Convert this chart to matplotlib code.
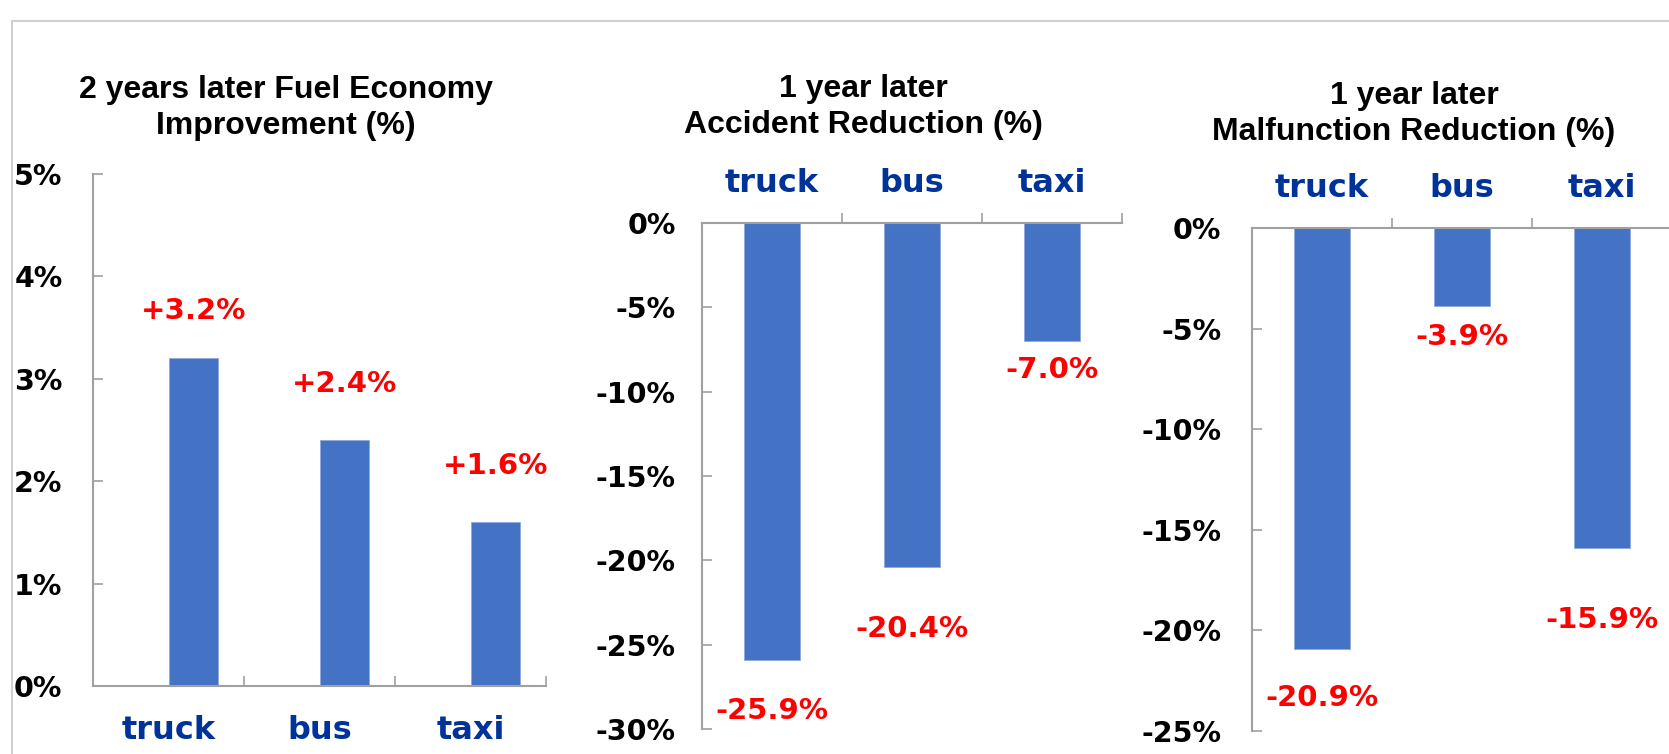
import matplotlib.pyplot as plt
import matplotlib.patches as patches
from matplotlib.ticker import FuncFormatter

## Data
categories = ["truck", "bus", "taxi"]
fuel_values = [3.2, 2.4, 1.6]
accident_values = [-25.9, -20.4, -7.0]
malfunction_values = [-20.9, -3.9, -15.9]

fuel_title = "2 years later Fuel Economy\nImprovement (%)"
accident_title = "1 year later\nAccident Reduction (%)"
malfunction_title = "1 year later\nMalfunction Reduction (%)"

## Styles
BAR = "#4472C4"
CAT = "#003399"
RED = "#FF0000"
AXC = "#A0A0A0"
TICKFONT = "DejaVu Sans"
TITLEFONT = "Liberation Sans"

W, H = 1669, 754
fig = plt.figure(figsize=(W / 100, H / 100), dpi=100)

## outer frame (only top and left edges are visible)
frame = patches.Rectangle((12 / W, -0.2), 1.5, (H - 21) / H + 0.2, transform=fig.transFigure,
                          fill=False, edgecolor="#D0D0D0", linewidth=1.5, clip_on=False)
fig.add_artist(frame)


def px(x0, y0, x1, y1):
    return [x0 / W, 1 - y1 / H, (x1 - x0) / W, (y1 - y0) / H]


def pct(v, pos):
    return "%d%%" % round(v)


def style_axis(ax, ylim, yticks, top, ypad, xpad):
    ax.set_ylim(*ylim)
    ax.set_xlim(-0.5, 2.5)
    ax.set_yticks(yticks)
    ax.yaxis.set_major_formatter(FuncFormatter(pct))
    for s in ax.spines.values():
        s.set_visible(False)
    ax.spines["left"].set_visible(True)
    ax.spines["left"].set_color(AXC)
    ax.spines["left"].set_linewidth(1.5)
    side = "top" if top else "bottom"
    ax.spines[side].set_visible(True)
    ax.spines[side].set_color(AXC)
    ax.spines[side].set_linewidth(1.5)
    if top:
        ax.xaxis.tick_top()
    ax.tick_params(axis="y", direction="in", length=7, width=1.2, color=AXC, pad=ypad,
                   labelsize=20.5)
    ax.set_xticks([0, 1, 2])
    ax.set_xticklabels(categories)
    ax.set_xticks([0.5, 1.5, 2.5], minor=True)
    ax.tick_params(axis="x", which="major", length=0, pad=xpad, labelsize=23,
                   labelcolor=CAT, top=top, bottom=not top, labeltop=top, labelbottom=not top)
    ax.tick_params(axis="x", which="minor", direction="in" if not top else "out", length=7,
                   width=1.2, color=AXC, top=top, bottom=not top)
    for lab in ax.get_yticklabels() + ax.get_xticklabels():
        lab.set_fontweight("bold")
        lab.set_fontfamily(TICKFONT)


def value_labels(ax, xs, vals, offs, sign):
    for x, v, o in zip(xs, vals, offs):
        txt = ("+%.1f%%" % v) if v > 0 else ("%.1f%%" % v)
        ax.annotate(txt, (x, v), xytext=(0, sign * o * 0.72), textcoords="offset points",
                    ha="center", va="center", color=RED, fontsize=21, fontweight="bold",
                    family=TICKFONT, annotation_clip=False)


## Panel 1 - fuel economy
ax1 = fig.add_axes(px(93, 174, 546, 686))
x = list(range(len(categories)))
ax1.bar(x, fuel_values, width=0.33, align="edge", color=BAR, edgecolor="#8FAADC", linewidth=0.6)
style_axis(ax1, (0, 5), [0, 1, 2, 3, 4, 5], False, 22, 21)
value_labels(ax1, [i + 0.165 for i in x], fuel_values, [47, 56, 56], 1)
fig.text(286 / W, 1 - 108 / H, fuel_title, ha="center", va="center", fontsize=23,
         fontweight="bold", family=TITLEFONT, linespacing=1.3)

## Panel 2 - accidents
ax2 = fig.add_axes(px(702, 223, 1122, 729))
ax2.bar(x, accident_values, width=0.4, color=BAR, edgecolor="#8FAADC", linewidth=0.6)
style_axis(ax2, (-30, 0), list(range(-30, 1, 5)), True, 19, 17)
value_labels(ax2, x, accident_values, [51, 62, 29], -1)
fig.text(863 / W, 1 - 107 / H, accident_title, ha="center", va="center", fontsize=23,
         fontweight="bold", family=TITLEFONT, linespacing=1.3)

## Panel 3 - malfunctions
ax3 = fig.add_axes(px(1252, 228, 1672, 731))
ax3.bar(x, malfunction_values, width=0.4, color=BAR, edgecolor="#8FAADC", linewidth=0.6)
style_axis(ax3, (-25, 0), list(range(-25, 1, 5)), True, 22, 17.5)
value_labels(ax3, x, malfunction_values, [49, 31, 72], -1)
fig.text(1414 / W, 1 - 114 / H, malfunction_title, ha="center", va="center", fontsize=23,
         fontweight="bold", family=TITLEFONT, linespacing=1.3)

fig.savefig("out.png", dpi=100)
